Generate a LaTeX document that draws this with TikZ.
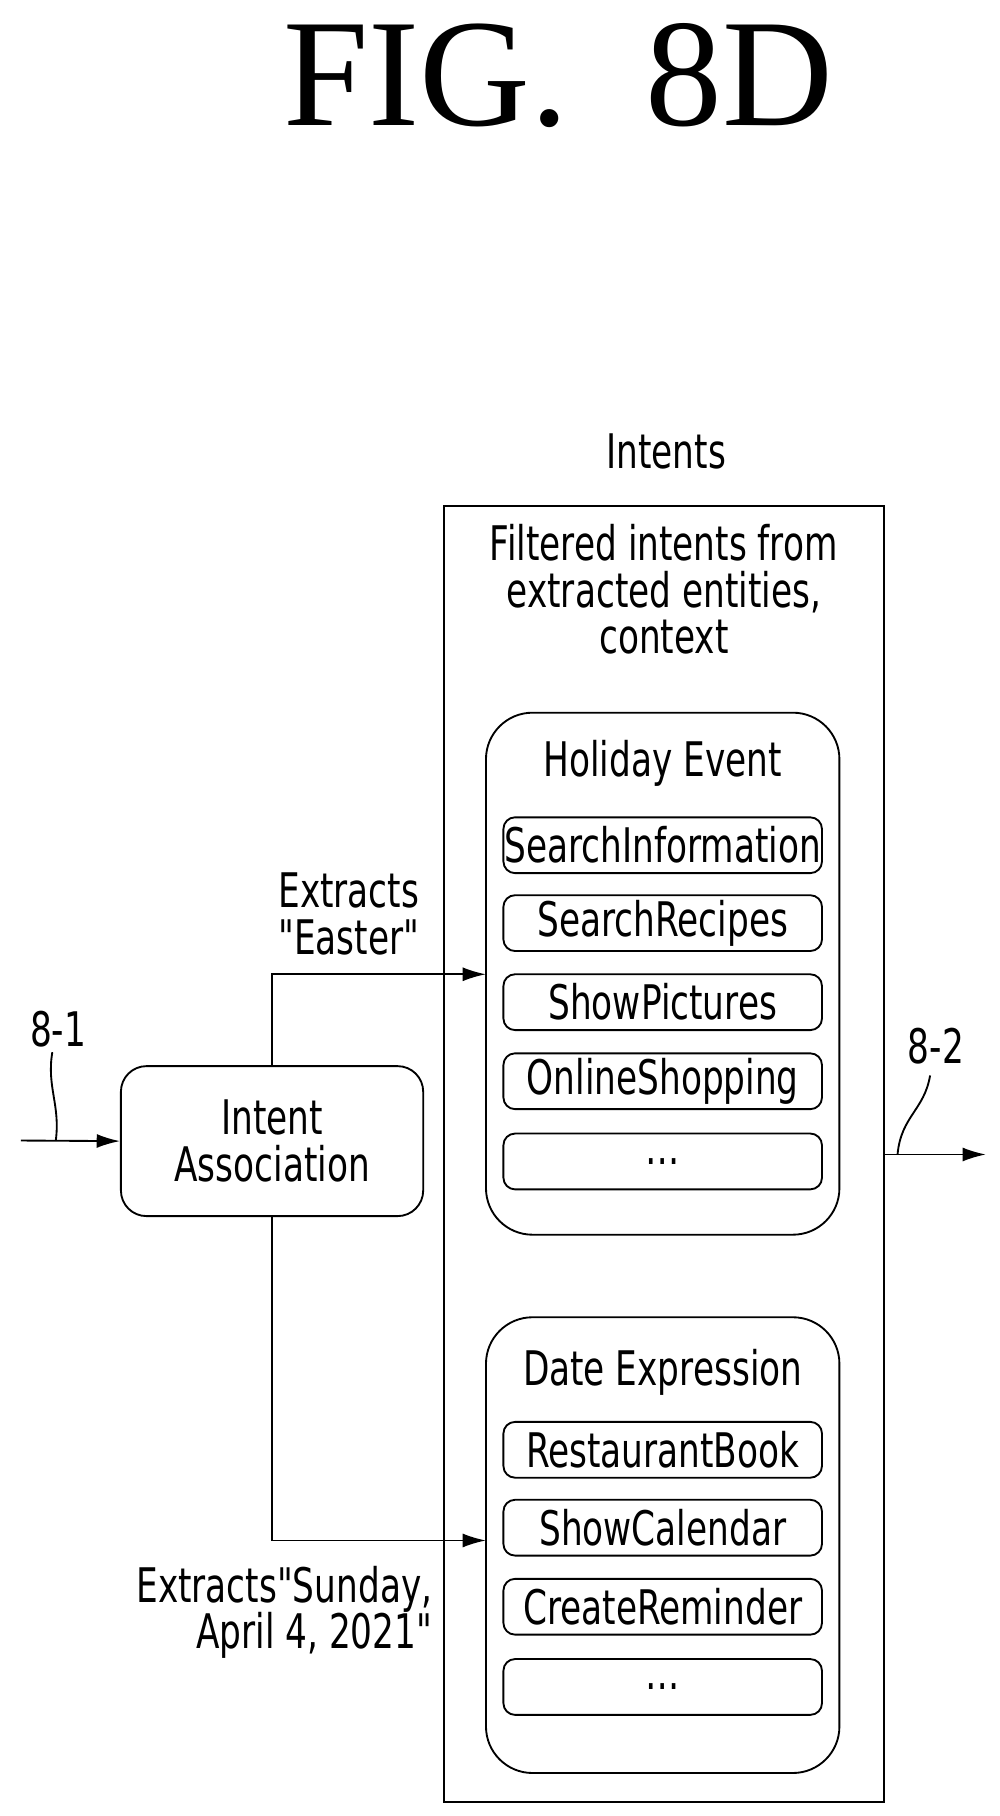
\documentclass[tikz,border=0pt]{standalone}
\usepackage{fontspec}
\setmainfont[FakeStretch=0.72]{DejaVu Sans}
\newfontfamily\qf[FakeStretch=0.72]{DejaVu Sans}
\newfontfamily\titlefont{Liberation Serif}
\usetikzlibrary{arrows.meta}
\newcommand{\dq}{{\qf\symbol{34}}}
\begin{document}
\begin{tikzpicture}[x=1pt,y=-1pt,
  txt/.style={font=\fontsize{41}{44}\selectfont,align=center,inner sep=0},
  item/.style={draw,line width=1.6pt,rounded corners=10pt,minimum width=274pt,minimum height=48pt,inner sep=0,font=\fontsize{41}{44}\selectfont},
  grp/.style={draw,line width=1.6pt,rounded corners=40pt},
  ln/.style={line width=1.6pt},
  arr/.style={ln,-{Latex[length=20pt,width=12pt]}}]
\useasboundingbox (0,0) rectangle (860,1562);
\node[inner sep=0,font=\titlefont\fontsize{132}{132}\selectfont] (title) at (480,65) {FIG.\ \ 8D};
\node[txt] (intents) at (573,388) {Intents};
\draw[ln] (382,435) rectangle (760,1550);
\node[txt] (filt) at (571,507) {Filtered intents from\\[-4pt]extracted entities,\\[-4pt]context};
\draw[grp] (418,613) rectangle (722,1062);
\node[txt] (holt) at (570,657) {Holiday Event};
\node[item] (i1) at (570,727) {SearchInformation};
\node[item] (i2) at (570,794) {SearchRecipes};
\node[item] (i3) at (570,862) {ShowPictures};
\node[item] (i4) at (570,930) {OnlineShopping};
\node[item] (i5) at (570,999) {\dots};
\draw[grp] (418,1133) rectangle (722,1525);
\node[txt] (datt) at (570,1180) {Date Expression};
\node[item] (d1) at (570,1247) {RestaurantBook};
\node[item] (d2) at (570,1314) {ShowCalendar};
\node[item] (d3) at (570,1382) {CreateReminder};
\node[item] (d4) at (570,1451) {\dots};
\node[draw,line width=1.6pt,rounded corners=22pt,minimum width=260pt,minimum height=129pt,txt] (ia) at (234,981.5) {Intent\\[-4pt]Association};
\coordinate (in) at (18,981);
\draw[arr] (in) -- (ia.west);
\node[txt] (l81) at (50,885) {8-1};
\draw[ln] (45,905) .. controls (40,935) and (52,950) .. (48,981);
\coordinate (upE) at (418,838);
\draw[arr] (ia.north) |- (upE);
\coordinate (dnE) at (418,1325);
\draw[arr] (ia.south) |- (dnE);
\node[txt] (le) at (300,786) {Extracts\\[-4pt]\dq Easter\dq};
\node[txt,align=right,anchor=east] (ls) at (372,1387) {Extracts\dq Sunday,\\[-4pt]April 4, 2021\dq};
\coordinate (outS) at (760,993);
\coordinate (outE) at (848,993);
\draw[arr] (outS) -- (outE);
\node[txt] (l82) at (805,900) {8-2};
\draw[ln] (800,925) .. controls (795,955) and (775,960) .. (772,993);
\end{tikzpicture}
\end{document}
